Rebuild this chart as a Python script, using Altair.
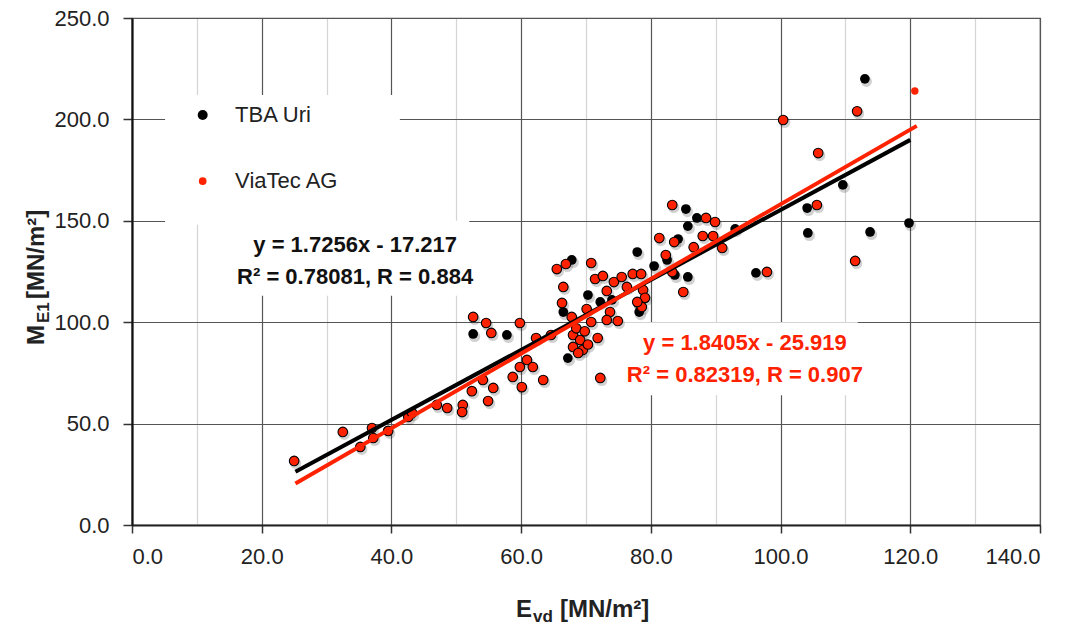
import altair as alt
import pandas as pd

# ---------------- data ----------------
tba_x = [113.0, 109.6, 104.1, 119.8, 104.2, 113.8, 96.2, 85.4, 87.1, 85.7, 93.0, 84.2,
         77.9, 82.5, 80.5, 83.7, 85.7, 70.3, 67.8, 66.5, 72.2, 74.0, 78.2, 78.0, 67.2,
         52.6, 57.8]
tba_y = [220.0, 167.7, 156.3, 148.9, 144.0, 144.5, 124.3, 155.8, 151.4, 147.4, 146.0, 141.0,
         134.6, 130.7, 127.7, 123.3, 122.3, 113.4, 130.7, 105.0, 110.0, 111.0, 105.0, 109.5, 82.3,
         94.2, 93.7]

via_x = [120.7, 111.8, 100.4, 105.8, 105.6, 111.5, 97.9,
         83.3, 88.5, 89.9, 81.3, 83.6, 88.0, 89.6, 86.6, 91.0, 82.3,
         70.8, 71.4, 72.6, 74.3, 75.5, 77.2, 78.5, 83.3, 85.0, 73.2, 76.3, 78.8,
         65.5, 66.9, 66.5, 66.3, 67.8, 70.1, 73.7, 78.6, 79.1, 77.9, 70.8, 73.2, 74.9,
         68.0, 69.1, 68.0, 69.5, 71.8, 68.8, 68.5, 69.8, 70.3, 72.2,
         52.6, 54.6, 55.4, 59.8, 62.3, 64.6, 60.9, 61.8, 59.8, 58.7, 63.4, 60.1, 54.1,
         55.7, 52.4, 54.9, 51.0, 50.9, 48.6, 47.0,
         25.0, 32.5, 35.2, 37.0, 37.2, 39.5, 42.6, 43.2]
via_y = [214.0, 204.0, 199.7, 183.4, 157.8, 130.2, 124.8,
         157.8, 151.4, 149.4, 141.5, 139.5, 142.5, 142.5, 137.0, 136.6, 133.1,
         129.2, 121.3, 122.8, 119.8, 122.3, 123.8, 123.8, 124.8, 114.9, 115.4, 117.4, 115.9,
         126.2, 128.7, 117.4, 109.5, 102.6, 106.5, 105.0, 107.5, 112.0, 110.0, 100.1, 101.1, 100.6,
         93.7, 91.2, 87.8, 86.3, 92.2, 84.8, 97.0, 95.5, 89.0, 72.5,
         102.6, 99.6, 94.7, 99.6, 92.2, 93.7, 81.4, 77.9, 77.9, 73.0, 71.5, 68.0, 71.5,
         67.6, 66.0, 61.1, 59.2, 55.7, 57.7, 59.2,
         31.6, 45.9, 38.5, 47.8, 42.9, 46.4, 53.3, 55.2]
# the first ViaTec point is drawn small and without outline in the original
via_plain = [True] + [False] * (len(via_x) - 1)

# regression lines (end points of the fitted lines)
fit_tba_x = [25.2, 120.0]
fit_tba_y = [26.3, 189.9]
fit_via_x = [25.2, 121.0]
fit_via_y = [20.5, 196.8]

series_names = ["TBA Uri", "ViaTec AG"]
eq_tba = ["y = 1.7256x - 17.217", "R² = 0.78081, R = 0.884"]
eq_via = ["y = 1.8405x - 25.919", "R² = 0.82319, R = 0.907"]

x_ticks = list(range(0, 141, 10))
y_ticks = [0, 50, 100, 150, 200, 250]

# ---------------- chart ----------------
W, H = 908, 507
RED = "#ff2200"
FONT = "Liberation Sans"
NARROW = "Liberation Sans Narrow, Liberation Sans"

xs = alt.Scale(domain=[0, 140], nice=False, zero=False)
ys = alt.Scale(domain=[0, 250], nice=False, zero=False)

major20 = "datum.value % 20 === 0"
x_axis = alt.Axis(
    values=x_ticks, title=None,
    labelExpr=f"{major20} ? format(datum.value, '.1f') : ''",
    gridColor={"condition": {"test": major20, "value": "#555555"}, "value": "#d4d4d4"},
    gridWidth=1.2,
    tickOpacity={"condition": {"test": major20, "value": 1}, "value": 0},
    tickSize=8, tickColor="#333333", tickWidth=1.5,
    domainColor="#222222", domainWidth=2,
    labelFont=FONT, labelFontSize=22, labelColor="#222222", labelPadding=13,
)
y_axis = alt.Axis(
    values=y_ticks, title=None, format=".1f",
    gridColor="#555555", gridWidth=1.2,
    tickSize=9, tickColor="#333333", tickWidth=1.5,
    domainColor="#111111", domainWidth=2.2,
    labelFont=FONT, labelFontSize=22, labelColor="#222222", labelPadding=14,
)

df_tba = pd.DataFrame({"x": tba_x, "y": tba_y})
df_via = pd.DataFrame({"x": via_x, "y": via_y, "plain": via_plain})
df_fit_tba = pd.DataFrame({"x": fit_tba_x, "y": fit_tba_y})
df_fit_via = pd.DataFrame({"x": fit_via_x, "y": fit_via_y})

# axes carrier (invisible)
axes = alt.Chart(df_tba).mark_point(opacity=0).encode(
    x=alt.X("x:Q", scale=xs, axis=x_axis),
    y=alt.Y("y:Q", scale=ys, axis=y_axis),
)

# white boxes behind legend and equations
boxes = alt.Chart(pd.DataFrame({
    "x": [5.1, 10.5, 75.2], "x2": [41.3, 52.0, 111.9],
    "y": [148.0, 113.0, 64.0], "y2": [212.0, 150.0, 100.0]})).mark_rect(color="white").encode(
    x=alt.X("x:Q", scale=xs), x2="x2:Q",
    y=alt.Y("y:Q", scale=ys), y2="y2:Q",
)

shadow_tba = alt.Chart(df_tba).mark_circle(color="#000000", opacity=0.18, size=125, xOffset=1.5, yOffset=2.5).encode(
    x=alt.X("x:Q", scale=xs), y=alt.Y("y:Q", scale=ys))
shadow_via = alt.Chart(df_via).transform_filter("!datum.plain").mark_circle(
    color="#000000", opacity=0.18, size=125, xOffset=1.5, yOffset=2.5).encode(
    x=alt.X("x:Q", scale=xs), y=alt.Y("y:Q", scale=ys))

pts_tba = alt.Chart(df_tba).mark_circle(color="#000000", opacity=1, size=95).encode(
    x=alt.X("x:Q", scale=xs), y=alt.Y("y:Q", scale=ys))
pts_via = alt.Chart(df_via).transform_filter("!datum.plain").mark_point(
    shape="circle", filled=True, fill=RED, stroke="#000000",
    strokeWidth=1.1, opacity=1, size=92).encode(
    x=alt.X("x:Q", scale=xs), y=alt.Y("y:Q", scale=ys))
pts_via_plain = alt.Chart(df_via).transform_filter("datum.plain").mark_circle(
    color=RED, opacity=1, size=55).encode(
    x=alt.X("x:Q", scale=xs), y=alt.Y("y:Q", scale=ys))

line_tba = alt.Chart(df_fit_tba).mark_line(color="#000000", strokeWidth=4).encode(
    x=alt.X("x:Q", scale=xs), y=alt.Y("y:Q", scale=ys))
line_via = alt.Chart(df_fit_via).mark_line(color=RED, strokeWidth=4).encode(
    x=alt.X("x:Q", scale=xs), y=alt.Y("y:Q", scale=ys))

# legend
leg_dots = alt.Chart(pd.DataFrame({"x": [10.9, 10.9], "y": [202.2, 169.6], "s": series_names})).mark_circle(
    opacity=1).encode(
    x=alt.X("x:Q", scale=xs), y=alt.Y("y:Q", scale=ys),
    color=alt.Color("s:N", scale=alt.Scale(domain=series_names, range=["#000000", RED]), legend=None),
    size=alt.Size("s:N", scale=alt.Scale(domain=series_names, range=[100, 60]), legend=None),
)
leg_text = alt.Chart(pd.DataFrame({"x": [15.9, 15.9], "y": [202.2, 169.6], "t": series_names})).mark_text(
    align="left", baseline="middle", font=FONT, fontSize=22, color="#222222").encode(
    x=alt.X("x:Q", scale=xs), y=alt.Y("y:Q", scale=ys), text="t:N")

# equations
eqt = alt.Chart(pd.DataFrame({"x": [34.4, 34.4], "y": [138.1, 122.3], "t": eq_tba})).mark_text(
    align="center", baseline="middle", font=NARROW, fontSize=22, fontWeight="bold", color="#111111").encode(
    x=alt.X("x:Q", scale=xs), y=alt.Y("y:Q", scale=ys), text="t:N")
eqv = alt.Chart(pd.DataFrame({"x": [94.5, 94.5], "y": [89.7, 74.0], "t": eq_via})).mark_text(
    align="center", baseline="middle", font=NARROW, fontSize=22, fontWeight="bold", color=RED).encode(
    x=alt.X("x:Q", scale=xs), y=alt.Y("y:Q", scale=ys), text="t:N")

# axis titles with subscripts
def ptext(txt, x, y, size, angle=0):
    kw = dict(align="left", baseline="alphabetic", font=FONT, fontSize=size, fontWeight="bold", color="#222222")
    if angle:
        kw["angle"] = angle
    return alt.Chart(pd.DataFrame({"t": [txt]})).mark_text(**kw).encode(
        x=alt.value(x), y=alt.value(y), text="t:N")

xt = ptext("E", 384, 599, 24) + ptext("vd", 401, 604, 17) + ptext("[MN/m²]", 428, 599, 24)
yt = ptext("M", -88, 345 - 18, 24, 270) + ptext("E1", -83, 323 - 18, 17, 270) + ptext("[MN/m²]", -88, 299 - 18, 24, 270)

chart = alt.layer(
    axes, boxes, shadow_tba, pts_tba, shadow_via, pts_via, pts_via_plain, line_tba, line_via,
    leg_dots, leg_text, eqt, eqv, xt, yt
).properties(
    width=W, height=H,
    autosize=alt.AutoSizeParams(type="none"),
    padding={"left": 132, "top": 18, "right": 35, "bottom": 100},
    background="white",
).configure_view(stroke="#555555", strokeWidth=1.2)

chart.save("out.html", embed_options={"renderer": "svg", "actions": False})
